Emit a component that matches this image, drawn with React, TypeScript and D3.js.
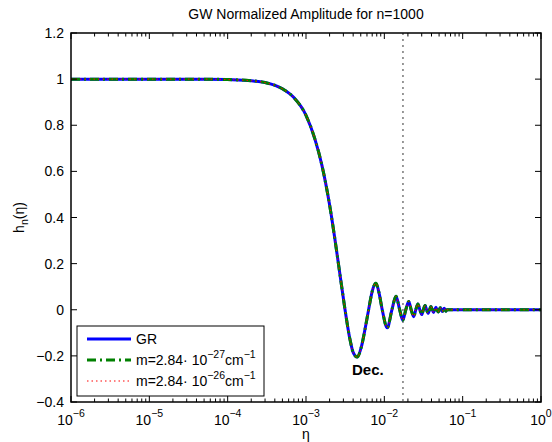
import React from "react";
import * as d3 from "d3";

// Data
const etaValues = [
  1e-6, 1e-5, 5e-5, 1e-4, 2e-4, 3e-4, 5e-4, 7e-4, 1e-3, 1.3e-3, 1.6e-3, 2e-3,
  2.4e-3, 2.8e-3, 3.15e-3, 3.6e-3, 4.0e-3, 4.5e-3, 5.1e-3, 5.7e-3, 6.3e-3,
  7.0e-3, 7.8e-3, 8.6e-3, 9.4e-3, 1.09e-2, 1.25e-2, 1.41e-2, 1.57e-2, 1.72e-2,
  1.88e-2, 2.05e-2, 2.2e-2, 2.37e-2, 2.52e-2, 2.68e-2, 2.84e-2, 3.0e-2,
  3.15e-2, 3.31e-2, 3.46e-2, 3.62e-2, 3.78e-2, 3.93e-2, 4.09e-2, 4.25e-2,
  4.4e-2, 4.56e-2, 4.7e-2, 4.87e-2, 5.03e-2, 5.18e-2, 5.34e-2, 5.5e-2,
  5.65e-2, 5.81e-2, 5.97e-2, 6.12e-2, 6.28e-2, 1e-1, 1,
];
const hGR = [
  1, 1, 1, 0.998, 0.993, 0.985, 0.958, 0.92, 0.843, 0.74, 0.625, 0.455, 0.28,
  0.12, 0.0, -0.12, -0.185, -0.205, -0.16, -0.08, 0.0, 0.08, 0.115, 0.07, 0.0,
  -0.078, 0.0, 0.058, 0.0, -0.045, 0.0, 0.036, 0.0, -0.03, 0.0, 0.025, 0.0,
  -0.021, 0.0, 0.018, 0.0, -0.016, 0.0, 0.014, 0.0, -0.012, 0.0, 0.011, 0.0,
  -0.01, 0.0, 0.009, 0.0, -0.008, 0.0, 0.007, 0.0, -0.006, 0.0, 0.0, 0.0,
];
const hM27 = hGR;
const hM26 = hGR;

const xTickExps = [-6, -5, -4, -3, -2, -1, 0];
const yTicks = [-0.4, -0.2, 0, 0.2, 0.4, 0.6, 0.8, 1, 1.2];
const yTickLabels = ["\u22120.4", "\u22120.2", "0", "0.2", "0.4", "0.6", "0.8", "1", "1.2"];
const decEta = 0.0173;

const W = 552;
const H = 442;
const left = 71;
const right = 541;
const top = 33;
const bottom = 402;
const font = "'Liberation Sans', Arial, Helvetica, sans-serif";

export default function App() {
  const x = d3.scaleLog().domain([1e-6, 1]).range([left, right]);
  const y = d3.scaleLinear().domain([-0.4, 1.2]).range([bottom, top]);
  const line = (vals: number[]) =>
    d3
      .line<number>()
      .x((_, i) => x(etaValues[i]))
      .y((d) => y(d))
      .curve(d3.curveMonotoneX)(vals) || "";

  const minor: number[] = [];
  for (let e = -6; e < 0; e++) {
    for (let k = 2; k <= 9; k++) minor.push(k * Math.pow(10, e));
  }

  const blue = "#0000ff";
  const green = "#008000";
  const red = "#ff0000";

  const legendX = 77;
  const legendY = 326;
  const legendW = 187;
  const legendH = 70;
  const entries = [
    { y: 339, color: blue, width: 3, dash: undefined as string | undefined, exp: "" },
    { y: 360, color: green, width: 3, dash: "9,4,2,4", exp: "\u221227" },
    { y: 381, color: red, width: 1, dash: "1.5,3", exp: "\u221226" },
  ];

  return (
    <svg
      width={W}
      height={H}
      style={{ position: "absolute", left: 0, top: 0, background: "#fff" }}
      fontFamily={font}
    >
      <rect x={0} y={0} width={W} height={H} fill="#fff" />
      {/* title */}
      <text x={(left + right) / 2} y={19} textAnchor="middle" fontSize={14}>
        GW Normalized Amplitude for n=1000
      </text>

      {/* Dec line */}
      <line
        x1={x(decEta)}
        x2={x(decEta)}
        y1={top}
        y2={bottom}
        stroke="#333"
        strokeWidth={1}
        strokeDasharray="2,4"
      />

      {/* curves */}
      <path d={line(hGR)} fill="none" stroke={blue} strokeWidth={3} />
      <path d={line(hM27)} fill="none" stroke={green} strokeWidth={3} strokeDasharray="9,4,2,4" />
      <path d={line(hM26)} fill="none" stroke={red} strokeWidth={1} strokeDasharray="1.5,3" />

      {/* frame */}
      <rect x={left} y={top} width={right - left} height={bottom - top} fill="none" stroke="#000" strokeWidth={1.5} />

      {/* x ticks */}
      {xTickExps.map((e) => {
        const px = x(Math.pow(10, e));
        return (
          <g key={"xt" + e}>
            <line x1={px} x2={px} y1={bottom} y2={bottom - 6} stroke="#000" />
            <line x1={px} x2={px} y1={top} y2={top + 6} stroke="#000" />
            <text x={px} y={425} textAnchor="middle" fontSize={14}>
              <tspan>10</tspan>
              <tspan dy={-8} fontSize={10.5}>
                {e === 0 ? "0" : "\u2212" + Math.abs(e)}
              </tspan>
            </text>
          </g>
        );
      })}
      {minor.map((v, i) => {
        const px = x(v);
        return (
          <g key={"mn" + i}>
            <line x1={px} x2={px} y1={bottom} y2={bottom - 3.5} stroke="#000" />
            <line x1={px} x2={px} y1={top} y2={top + 3.5} stroke="#000" />
          </g>
        );
      })}

      {/* y ticks */}
      {yTicks.map((v, i) => {
        const py = y(v);
        return (
          <g key={"yt" + i}>
            <line x1={left} x2={left + 6} y1={py} y2={py} stroke="#000" />
            <line x1={right} x2={right - 6} y1={py} y2={py} stroke="#000" />
            <text x={64} y={py + 5} textAnchor="end" fontSize={14}>
              {yTickLabels[i]}
            </text>
          </g>
        );
      })}

      {/* axis labels */}
      <text x={(left + right) / 2} y={439} textAnchor="middle" fontSize={14}>
        η
      </text>
      <text transform={`translate(24,${(top + bottom) / 2}) rotate(-90)`} textAnchor="middle" fontSize={14}>
        <tspan>h</tspan>
        <tspan dy={4} fontSize={10.5}>n</tspan>
        <tspan dy={-4}>(η)</tspan>
      </text>

      {/* Dec. label */}
      <text x={352} y={375} fontSize={15} fontWeight="bold">
        Dec.
      </text>

      {/* legend */}
      <rect x={legendX} y={legendY} width={legendW} height={legendH} fill="#fff" stroke="#000" strokeWidth={1} />
      {entries.map((en, i) => (
        <g key={"lg" + i}>
          <line
            x1={87}
            x2={131}
            y1={en.y}
            y2={en.y}
            stroke={en.color}
            strokeWidth={en.width}
            strokeDasharray={en.dash}
          />
          {i === 0 ? (
            <text x={136} y={en.y + 5} fontSize={14}>
              GR
            </text>
          ) : (
            <text x={136} y={en.y + 5} fontSize={14}>
              <tspan>m=2.84· 10</tspan>
              <tspan dy={-7} fontSize={10.5}>{en.exp}</tspan>
              <tspan dy={7}>cm</tspan>
              <tspan dy={-7} fontSize={10.5}>{"\u22121"}</tspan>
            </text>
          )}
        </g>
      ))}
    </svg>
  );
}
